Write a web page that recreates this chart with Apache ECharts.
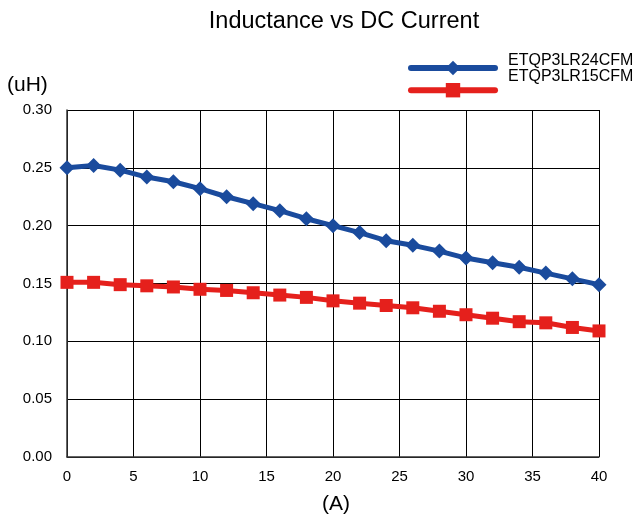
<!DOCTYPE html>
<html>
<head>
<meta charset="utf-8">
<script src="https://cdn.jsdelivr.net/npm/echarts@6/dist/echarts.min.js"></script>
<style>html,body{margin:0;padding:0;background:#fff}#c{width:635px;height:525px}</style>
</head>
<body>
<div id="c"></div>
<script>
const currents = [0,2,4,6,8,10,12,14,16,18,20,22,24,26,28,30,32,34,36,38,40];
const l24 = [0.250,0.252,0.248,0.242,0.238,0.232,0.225,0.219,0.213,0.206,0.200,0.194,0.187,0.183,0.178,0.172,0.168,0.164,0.159,0.154,0.149];
const l15 = [0.151,0.151,0.149,0.148,0.147,0.145,0.144,0.142,0.140,0.138,0.135,0.133,0.131,0.129,0.126,0.123,0.120,0.117,0.116,0.112,0.109];
const seriesNames = ['ETQP3LR24CFM','ETQP3LR15CFM'];
const xTicks = [0,5,10,15,20,25,30,35,40];
const yTicks = ['0.00','0.05','0.10','0.15','0.20','0.25','0.30'];

const blue = '#1a4b9d', red = '#e5201c';
const font = 'Arial, "Liberation Sans", sans-serif';
const chart = echarts.init(document.getElementById('c'));
chart.setOption({
  animation: false,
  title: {text: 'Inductance vs DC Current', left: 339, top: 5, textAlign: 'center',
    textStyle: {fontFamily: font, fontSize: 23.5, fontWeight: 'normal', color: '#000'}},
  legend: {
    orient: 'vertical', left: 408, top: 59, padding: 0, itemWidth: 84, itemHeight: 18, itemGap: 6,
    data: seriesNames, formatter: () => '', textStyle: {fontSize: 1},
    lineStyle: {width: 6, cap: 'round'}
  },
  graphic: [
    {type: 'text', left: 508, top: 53, style: {text: seriesNames[0], font: '16px ' + font, fill: '#000'}},
    {type: 'text', left: 508, top: 69, style: {text: seriesNames[1], font: '16px ' + font, fill: '#000'}},
    {type: 'text', left: 7, top: 75, style: {text: '(uH)', font: '21px ' + font, fill: '#000'}},
    {type: 'text', left: 322, top: 494, style: {text: '(A)', font: '21px ' + font, fill: '#000'}}
  ],
  grid: {left: 67, right: 36, top: 110, bottom: 68},
  xAxis: {
    type: 'value', min: 0, max: 40, interval: 5,
    axisLine: {lineStyle: {color: '#333', width: 1.5}},
    axisTick: {show: false},
    axisLabel: {fontFamily: font, fontSize: 15, color: '#000', margin: 12,
      formatter: v => xTicks.includes(v) ? String(v) : ''},
    splitLine: {show: true, lineStyle: {color: '#000', width: 1}}
  },
  yAxis: {
    type: 'value', min: 0, max: 0.3, interval: 0.05,
    axisLine: {show: true, lineStyle: {color: '#333', width: 1.5}},
    axisTick: {show: false},
    axisLabel: {fontFamily: font, fontSize: 15, color: '#000', margin: 15,
      formatter: v => yTicks[Math.round(v / 0.05)]},
    splitLine: {show: true, lineStyle: {color: '#000', width: 1}}
  },
  series: [
    {name: seriesNames[0], type: 'line', data: currents.map((c, i) => [c, l24[i]]),
      symbol: 'diamond', symbolSize: 15, lineStyle: {color: blue, width: 5},
      itemStyle: {color: blue}, z: 3},
    {name: seriesNames[1], type: 'line', data: currents.map((c, i) => [c, l15[i]]),
      symbol: 'rect', symbolSize: 13, lineStyle: {color: red, width: 5},
      itemStyle: {color: red}, z: 2}
  ]
});
</script>
</body>
</html>
